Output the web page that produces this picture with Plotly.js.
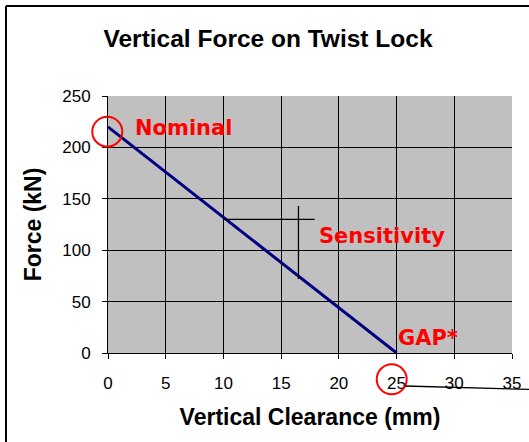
<!DOCTYPE html>
<html>
<head>
<meta charset="utf-8">
<script src="https://cdn.plot.ly/plotly-3.0.1.min.js"></script>
<style>html,body{margin:0;padding:0;background:#fff;}#chart{width:529px;height:442px;}</style>
</head>
<body>
<div id="chart"></div>
<script>
// Data
const clearance = [0, 25];
const force = [220, 0];
const sensHX = [10, 17.9];
const sensHY = [130, 130];
const sensVX = [16.5, 16.5];
const sensVY = [143, 72];
const xTicks = [0, 5, 10, 15, 20, 25, 30, 35];
const yTicks = [0, 50, 100, 150, 200, 250];
const labels = ["Nominal", "Sensitivity", "GAP*"];

const W = 529, H = 442;
const L = 108, R = 17, T = 96, B = 89;
const pw = W - L - R, ph = H - T - B;
const px = v => (v - L) / pw;
const py = v => (H - B - v) / ph;

const traces = [
  {x: clearance, y: force, mode: 'lines', line: {color: '#000080', width: 3}, hoverinfo: 'none'},
  {x: sensHX, y: sensHY, mode: 'lines', line: {color: '#000000', width: 1.3}, hoverinfo: 'none'},
  {x: sensVX, y: sensVY, mode: 'lines', line: {color: '#000000', width: 1.3}, hoverinfo: 'none'}
];

const redFont = {family: 'DejaVu Sans', size: 21, color: '#ff0000', weight: 'bold'};

const layout = {
  width: W, height: H,
  margin: {l: L, r: R, t: T, b: B, pad: 0},
  paper_bgcolor: '#ffffff',
  plot_bgcolor: '#c0c0c0',
  showlegend: false,
  title: {text: '<b>Vertical Force on Twist Lock</b>', font: {family: 'Liberation Sans', size: 24.5, color: '#000'},
          x: 268 / W, xref: 'container', xanchor: 'center', y: 1 - 38 / H, yref: 'container', yanchor: 'middle'},
  xaxis: {
    range: [0, 35], tickvals: xTicks, ticktext: xTicks.map(String),
    showgrid: true, gridcolor: '#000000', gridwidth: 1, zeroline: false,
    showline: true, linecolor: '#000000', linewidth: 1,
    ticks: 'outside', ticklen: 5, tickcolor: '#000', ticklabelstandoff: 10,
    tickfont: {family: 'Liberation Sans', size: 17, color: '#000'},
    title: {text: '<b>Vertical Clearance (mm)</b>', font: {family: 'Liberation Sans', size: 23, color: '#000'}, standoff: 16}
  },
  yaxis: {
    range: [0, 250], tickvals: yTicks, ticktext: yTicks.map(String),
    showgrid: true, gridcolor: '#000000', gridwidth: 1, zeroline: false,
    showline: true, linecolor: '#000000', linewidth: 1,
    ticks: 'outside', ticklen: 5, tickcolor: '#000', ticklabelstandoff: 8,
    tickfont: {family: 'Liberation Sans', size: 17, color: '#000'},
    title: {text: '<b>Force (kN)</b>', font: {family: 'Liberation Sans', size: 23, color: '#000'}, standoff: 14}
  },
  annotations: [
    {x: 2.14, y: 219, xref: 'x', yref: 'y', text: '<b>' + labels[0] + '</b>', showarrow: false, xanchor: 'left', yanchor: 'middle', font: redFont},
    {x: 18.09, y: 114, xref: 'x', yref: 'y', text: '<b>' + labels[1] + '</b>', showarrow: false, xanchor: 'left', yanchor: 'middle', font: redFont},
    {x: 24.97, y: 15, xref: 'x', yref: 'y', text: '<b>' + labels[2] + '</b>', showarrow: false, xanchor: 'left', yanchor: 'middle', font: redFont}
  ],
  shapes: [
    // outer frame
    {type: 'line', xref: 'paper', yref: 'paper', x0: px(6), y0: py(6), x1: px(W + 2), y1: py(6), line: {color: '#000', width: 2}},
    {type: 'line', xref: 'paper', yref: 'paper', x0: px(6), y0: py(6), x1: px(6), y1: py(H + 2), line: {color: '#000', width: 2}},
    // nominal circle
    {type: 'circle', xref: 'paper', yref: 'paper', xsizemode: 'pixel', ysizemode: 'pixel',
     xanchor: px(107.3), yanchor: py(131.7), x0: -15, x1: 15, y0: -15, y1: 15, line: {color: '#ff0000', width: 2}},
    // gap circle
    {type: 'circle', xref: 'paper', yref: 'paper', xsizemode: 'pixel', ysizemode: 'pixel',
     xanchor: px(391.7), yanchor: py(379.3), x0: -15, x1: 15, y0: -15, y1: 15, line: {color: '#ff0000', width: 2}},
    // leader line
    {type: 'line', xref: 'paper', yref: 'paper', x0: px(405), y0: py(386), x1: px(W + 2), y1: py(389.5), line: {color: '#000', width: 1.3}}
  ]
};

Plotly.newPlot('chart', traces, layout, {staticPlot: true, displayModeBar: false});
</script>
</body>
</html>
